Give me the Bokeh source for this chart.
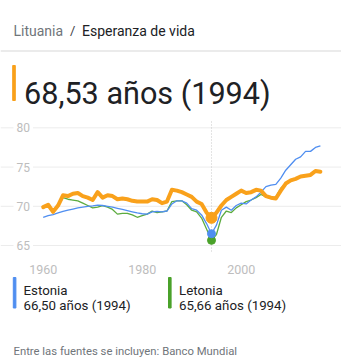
from bokeh.plotting import figure
from bokeh.models import Range1d, Label, ColumnDataSource
from bokeh.embed import file_html
from bokeh.resources import INLINE
from bokeh.core.properties import value

years = list(range(1960, 2017))
lithuania = [69.9, 70.2, 69.3, 70.1, 71.4, 71.3, 71.6, 71.7, 71.3, 71.1,
             70.8, 71.8, 71.1, 71.4, 71.3, 70.9, 71.0, 70.9, 70.7, 70.6,
             70.6, 70.6, 70.9, 70.8, 70.4, 70.6, 72.1, 72.0, 71.8, 71.5,
             71.2, 70.6, 70.3, 69.2, 68.53, 69.2, 70.1, 70.8, 71.2, 71.6,
             72.0, 71.7, 71.8, 72.1, 72.0, 71.3, 71.1, 71.0, 72.0, 72.9,
             73.3, 73.5, 73.8, 73.9, 74.0, 74.5, 74.4]
estonia = [68.6, 68.8, 68.95, 69.15, 69.35, 69.5, 69.65, 69.8, 69.9, 70.0,
           70.05, 70.15, 70.1, 70.0, 69.9, 69.75, 69.6, 69.45, 69.3, 69.15,
           69.05, 69.0, 69.3, 69.35, 69.3, 69.4, 70.3, 70.7, 70.7, 70.4,
           69.7, 69.5, 68.9, 67.8, 66.5, 67.6, 69.5, 69.9, 69.5, 70.1,
           70.4, 70.3, 70.8, 71.2, 71.8, 72.5, 72.7, 72.8, 73.6, 74.6,
           75.3, 76.0, 76.3, 77.0, 77.0, 77.5, 77.7]
latvia = [69.8, 70.0, 69.2, 70.0, 71.1, 70.9, 70.8, 70.7, 70.4, 70.1,
          69.8, 69.9, 70.1, 69.9, 69.6, 69.0, 69.1, 69.1, 68.9, 68.6,
          68.8, 69.0, 69.4, 69.2, 69.3, 69.4, 70.6, 70.7, 70.7, 70.2,
          69.5, 69.3, 68.5, 67.1, 65.66, 66.4, 68.6, 69.4, 69.2, 69.8,
          70.2, 70.6, 70.8, 71.1, 71.5, 71.2, 71.0, 71.2, 72.3, 72.9,
          73.3, 73.5, 73.8, 73.9, 74.0, 74.4, 74.4]

y_ticks = [65, 70, 75, 80]
x_ticks = [1960, 1980, 2000]
sel_year = 1994

ORANGE = "#f9a11b"
BLUE = "#4f8ef0"
GREEN = "#4aa22a"
FONT = "Roboto"

W, H = 341, 360
# pixel mapping helpers (layout only)
X0, XS = 42.7, 4.95      # px of 1960, px per year
Y70, YS = 205.8, 7.847   # px of value 70, px per unit


def dx(px):
    return 1960 + (px - X0) / XS


def dy(py):
    return 70 - (py - Y70) / YS


p = figure(width=W, height=H, output_backend="svg", toolbar_location=None,
           x_range=Range1d(dx(0), dx(W)), y_range=Range1d(dy(H), dy(0)),
           min_border=0)
p.axis.visible = False
p.grid.visible = False
p.outline_line_color = None
p.background_fill_color = "white"
p.border_fill_color = "white"

# gridlines
for t in y_ticks:
    p.line([dx(0), dx(W)], [t, t], line_color="#ececec", line_width=1)

# header divider
p.line([dx(0), dx(W)], [dy(50.5), dy(50.5)], line_color="#ebebeb", line_width=2)

# vertical selection line
p.line([sel_year, sel_year], [dy(121), dy(252)], line_color="#c8c8c8",
       line_width=1, line_dash="1 2")

p.line(years, latvia, line_color=GREEN, line_width=1.3, line_alpha=0.9)
p.line(years, estonia, line_color=BLUE, line_width=1.3)
p.line(years, lithuania, line_color=ORANGE, line_width=4, line_join="round", line_cap="round")

i = years.index(sel_year)
p.scatter([sel_year], [latvia[i]], size=8, color=GREEN)
p.scatter([sel_year], [estonia[i]], size=8, color=BLUE)
p.scatter([sel_year], [lithuania[i]], size=11, color=ORANGE)

# y tick labels
ysrc = ColumnDataSource(dict(x=[dx(13)] * len(y_ticks), y=y_ticks, t=[str(v) for v in y_ticks]))
p.text(x="x", y="y", text="t", source=ysrc, text_font=value(FONT), text_font_size="12px",
       text_color="#bdbdbd", text_baseline="middle", text_align="left",
       background_fill_color="white", padding=3)
xsrc = ColumnDataSource(dict(x=x_ticks, y=[dy(268.5)] * len(x_ticks), t=[str(v) for v in x_ticks]))
p.text(x="x", y="y", text="t", source=xsrc, text_font=value(FONT), text_font_size="12.5px",
       text_color="#bdbdbd", text_baseline="alphabetic", text_align="center")


def lab(px, py, txt, size, color):
    p.add_layout(Label(x=dx(px), y=dy(py), text=txt, text_font=FONT, text_font_size=size,
                       text_color=color, text_baseline="alphabetic", text_align="left"))


def bar(px, top, bottom, color):
    p.quad(left=dx(px), right=dx(px + 2.6), top=dy(top), bottom=dy(bottom), color=color)


lab(13, 30, "Lituania", "14px", "#70757a")
lab(69.5, 30, "/", "13px", "#3c4043")
lab(81.5, 30, "Esperanza de vida", "14px", "#202124")

bar(12.2, 65, 100, ORANGE)
lab(23.5, 93.3, "68,53 años (1994)", "30.6px", "#202124")

bar(12.8, 277, 307.5, BLUE)
lab(23, 289.5, "Estonia", "13.3px", "#202124")
lab(23, 305, "66,50 años (1994)", "13.3px", "#202124")
bar(168, 277, 307.5, GREEN)
lab(178.5, 289.5, "Letonia", "13.3px", "#202124")
lab(178.5, 305, "65,66 años (1994)", "13.3px", "#202124")

lab(13, 350.7, "Entre las fuentes se incluyen: Banco Mundial", "11.3px", "#70757a")

open("out.html", "w").write(file_html(p, INLINE))
